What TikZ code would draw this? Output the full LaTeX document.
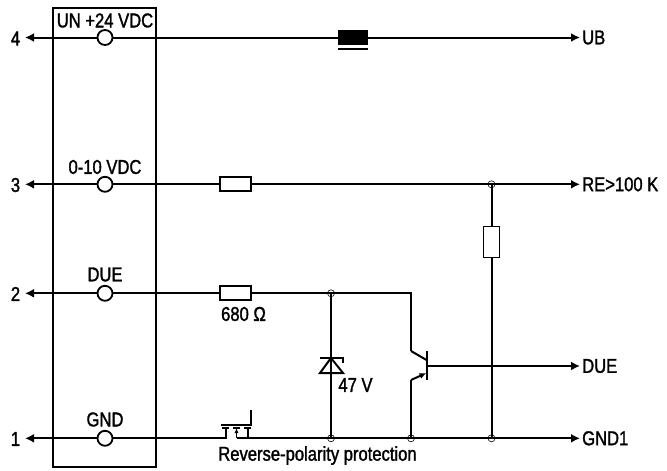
\documentclass[tikz,border=0pt]{standalone}
\usepackage{fontspec}
\setmainfont{Liberation Sans}[FakeStretch=0.83,FakeBold=1.5]
\usetikzlibrary{arrows.meta}
\tikzset{
  wire/.style={line width=2pt},
  lead/.style={wire,shorten >=2pt,-{Latex[length=9pt,width=9pt]}},
  terminal/.style={circle,draw,fill=white,line width=1.8pt,minimum size=15pt,inner sep=0pt},
  resistor/.style={rectangle,draw,fill=white,line width=1.8pt,inner sep=0pt},
  dotj/.style={circle,draw,line width=0.6pt,minimum size=7pt,inner sep=0pt},
  lab/.style={font=\fontsize{20}{22}\selectfont,inner sep=0pt,text=black},
}
\begin{document}
\begin{tikzpicture}[x=1pt,y=-1pt]
\useasboundingbox (0,0) rectangle (667,471);
% module box
\node[draw,line width=1.8pt,minimum width=103pt,minimum height=459pt,inner sep=0pt] (box) at (104.5,237.5) {};
% left numbers
\node[lab] (n4) at (15.5,38.5) {4};
\node[lab] (n3) at (15.5,185) {3};
\node[lab] (n2) at (15.5,294) {2};
\node[lab] (n1) at (15.5,439) {1};
% terminals
\node[terminal] (t4) at (105,37.5) {};
\node[terminal] (t3) at (105,184.3) {};
\node[terminal] (t2) at (105,293.3) {};
\node[terminal] (t1) at (105,438.3) {};
% left ends
\coordinate (l4) at (23,37.5);
\coordinate (l3) at (23,184.3);
\coordinate (l2) at (23,293.3);
\coordinate (l1) at (23,438.3);
\draw[lead] (t4) -- (l4);
\draw[lead] (t3) -- (l3);
\draw[lead] (t2) -- (l2);
\draw[lead] (t1) -- (l1);
% terminal labels
\node[lab] (L4) at (105,20.5) {UN +24 VDC};
\node[lab] (L3) at (105,167) {0-10 VDC};
\node[lab] (L2) at (105,274.5) {DUE};
\node[lab] (L1) at (105,419.5) {GND};
% right labels
\node[lab,anchor=west] (R4) at (582,37.5) {UB};
\node[lab,anchor=west] (R3) at (582,184.3) {RE>100 K};
\node[lab,anchor=west] (R2) at (582,366) {DUE};
\node[lab,anchor=west] (R1) at (582,438.3) {GND1};
% right arrow wires
\coordinate (e4) at (582,37.5);
\coordinate (e3) at (582,184.3);
\coordinate (e2) at (582,366);
\coordinate (e1) at (582,438.3);
\draw[lead] (t4) -- (e4);
\draw[lead] (t3) -- (e3);
% inductor
\node[rectangle,fill=black,minimum width=30pt,minimum height=15pt,inner sep=0pt] (ind) at (353,37.5) {};
\coordinate (ia) at (338,48.8);
\coordinate (ib) at (368,48.8);
\draw[line width=2pt] (ia) -- (ib);
% resistors
\node[resistor,minimum width=31pt,minimum height=14pt] (r3) at (235.5,184.3) {};
\node[resistor,minimum width=31pt,minimum height=14pt] (r2) at (235.5,293.3) {};
\node[lab] (r2l) at (243.5,314) {680 Ω};
% junctions
\node[dotj] (j3) at (491.5,184.3) {};
\node[dotj] (j1d) at (331,438.3) {};
\node[dotj] (j1t) at (411,438.3) {};
\node[dotj] (j1r) at (491.5,438.3) {};
\node[dotj] (j2) at (331,293.3) {};
% vertical resistor
\node[resistor,minimum width=16pt,minimum height=31pt] (rv) at (491.5,242) {};
\draw[wire] (j3.center) -- (rv.north);
\draw[wire] (rv.south) -- (j1r.center);
% line 2
\coordinate (c2) at (411,293.3);
\coordinate (cb) at (411,351);
\draw[wire] (t2) -- (r2);
\draw[wire] (r2) -- (j2.center);
\draw[wire,line join=miter] (j2.center) -- (c2) -- (cb);
% diode
\coordinate (dt) at (331,358);
\coordinate (dl) at (320,373);
\coordinate (dr) at (343,373);
\coordinate (bl) at (320,358);
\coordinate (br) at (343,358);
\coordinate (bh) at (343,363);
\draw[wire] (j2.center) -- (j1d.center);
\draw[wire,line join=miter] (dl) -- (dr) -- (dt) -- cycle;
\draw[wire] (bl) -- (br) -- (bh);
\node[lab] (v47) at (355.5,385) {47 V};
% transistor
\coordinate (bar1) at (426.5,351);
\coordinate (bar2) at (426.5,380);
\coordinate (cc) at (426.5,360);
\coordinate (ee) at (426.5,373);
\coordinate (em) at (411,380);
\coordinate (base) at (426.5,366);
\draw[line width=2pt] (bar1) -- (bar2);
\draw[wire] (cb) -- (cc);
\draw[wire,-{Latex[length=7pt,width=6pt]}] (em) -- (ee);
\draw[wire] (em) -- (j1t.center);
\draw[lead] (base) -- (e2);
% reverse polarity protection
\coordinate (m1) at (225.5,438.3);
\coordinate (m1t) at (225.5,428);
\coordinate (m2) at (236.5,438.3);
\coordinate (m2t) at (236.5,428);
\coordinate (m3) at (248,438.3);
\coordinate (m3t) at (248,428);
\coordinate (gl) at (221,424.5);
\coordinate (gr) at (251,424.5);
\coordinate (gt) at (251,410);
\draw[wire] (t1) -- (m1) -- (m1t);
\draw[lead] (m2) -- (e1);
\draw[line width=1.4pt,-{Latex[length=5pt,width=4pt]}] (m2) -- (m2t);
\draw[line width=1.4pt] (m3) -- (m3t);
\draw[line width=1.4pt] (222,428) -- (229,428);
\draw[line width=1.4pt] (233,428) -- (240,428);
\draw[line width=1.4pt] (244,428) -- (251,428);
\draw[wire] (gl) -- (gr) -- (gt);
\node[lab] (rp) at (317.5,455.5) {Reverse-polarity protection};
\end{tikzpicture}
\end{document}
